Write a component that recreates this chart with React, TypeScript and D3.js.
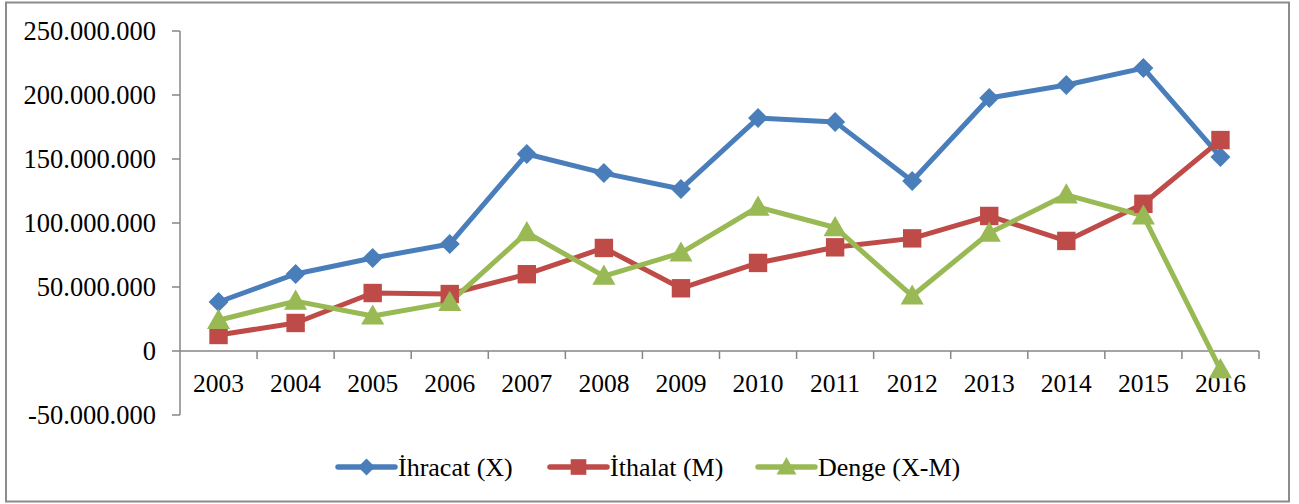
import React from "react";
import * as d3 from "d3";

const years = ["2003","2004","2005","2006","2007","2008","2009","2010","2011","2012","2013","2014","2015","2016"];
const ihracat = [38.3,60.2,72.7,83.6,153.9,139,126.6,182,179,132.8,197.7,207.8,221,151.6].map(v=>v*1e6);
const ithalat = [12.5,21.9,45.3,44.5,60,80.5,49,68.8,81,88,105.5,86,115,164.8].map(v=>v*1e6);
const denge = [24,39,27.4,38,92.5,58.5,76.6,112.5,96.5,43,92.2,122,105.5,-14.5].map(v=>v*1e6);
const yTicks = [-50e6,0,50e6,100e6,150e6,200e6,250e6];
const seriesNames = ["İhracat (X)","İthalat (M)","Denge (X-M)"];
const colors = ["#4A7EBB","#BE4B48","#98B954"];

const W = 1299, H = 504;
const fmt = (v: number) => v === 0 ? "0" : (v < 0 ? "-" : "") + d3.format(",")(Math.abs(v)).replace(/,/g, ".");

function Marker({ kind, x, y, s, color }: { kind: number; x: number; y: number; s: number; color: string }) {
  if (kind === 0) {
    const r = s / 2;
    return <path d={`M${x},${y - r}L${x + r},${y}L${x},${y + r}L${x - r},${y}Z`} fill={color} />;
  }
  if (kind === 1) {
    const r = s * 0.46;
    return <rect x={x - r} y={y - r} width={2 * r} height={2 * r} fill={color} />;
  }
  const r = s * 0.55;
  return <path d={`M${x},${y - r}L${x + r},${y + r * 0.75}L${x - r},${y + r * 0.75}Z`} fill={color} />;
}

export default function App() {
  const x = d3.scaleBand().domain(years).range([180, 1259]);
  const y = d3.scaleLinear().domain([-50e6, 250e6]).range([415, 31]);
  const data = [ihracat, ithalat, denge];
  const line = d3.line<number>().x((_, i) => (x(years[i]) as number) + x.bandwidth() / 2).y(d => y(d));
  const font = "'Liberation Serif', 'Times New Roman', serif";
  const legendX = [338, 550, 758];
  return (
    <svg width={W} height={H} style={{ position: "absolute", left: 0, top: 0 }} fontFamily={font}>
      <rect x={0} y={0} width={W} height={H} fill="#fff" />
      <rect x={6} y={2.5} width={1283} height={499} fill="none" stroke="#8c8c8c" strokeWidth={2} />
      {/* y axis */}
      <line x1={180} x2={180} y1={31} y2={415} stroke="#868686" strokeWidth={1.5} />
      {yTicks.map(t => (
        <g key={t}>
          <line x1={172} x2={180} y1={y(t)} y2={y(t)} stroke="#868686" strokeWidth={1.5} />
          <text x={156} y={y(t)} dy="0.35em" textAnchor="end" fontSize={26.5} fill="#000">{fmt(t)}</text>
        </g>
      ))}
      {/* x axis */}
      <line x1={180} x2={1259} y1={y(0)} y2={y(0)} stroke="#868686" strokeWidth={1.5} />
      {years.map((yr) => (
        <line key={yr} x1={(x(yr) as number) + x.bandwidth()} x2={(x(yr) as number) + x.bandwidth()} y1={y(0)} y2={y(0) + 8} stroke="#868686" strokeWidth={1.5} />
      ))}
      {years.map(yr => (
        <text key={yr} x={(x(yr) as number) + x.bandwidth() / 2} y={392} textAnchor="middle" fontSize={25.5} fill="#000">{yr}</text>
      ))}
      {data.map((d, si) => (
        <g key={si}>
          <path d={line(d) || ""} fill="none" stroke={colors[si]} strokeWidth={5} strokeLinejoin="round" strokeLinecap="round" />
        </g>
      ))}
      {data.map((d, si) => (
        <g key={"m" + si}>
          {d.map((v, i) => (
            <Marker key={i} kind={si} x={(x(years[i]) as number) + x.bandwidth() / 2} y={y(v)} s={si === 2 ? 21 : 20} color={colors[si]} />
          ))}
        </g>
      ))}
      {/* legend */}
      {seriesNames.map((n, i) => (
        <g key={n}>
          <line x1={legendX[i]} x2={legendX[i] + 57} y1={467} y2={467} stroke={colors[i]} strokeWidth={5.5} strokeLinecap="round" />
          <Marker kind={i} x={legendX[i] + 28.5} y={467} s={i === 2 ? 18 : 17} color={colors[i]} />
          <text x={legendX[i] + 60} y={476} fontSize={26} fill="#000">{n}</text>
        </g>
      ))}
    </svg>
  );
}
